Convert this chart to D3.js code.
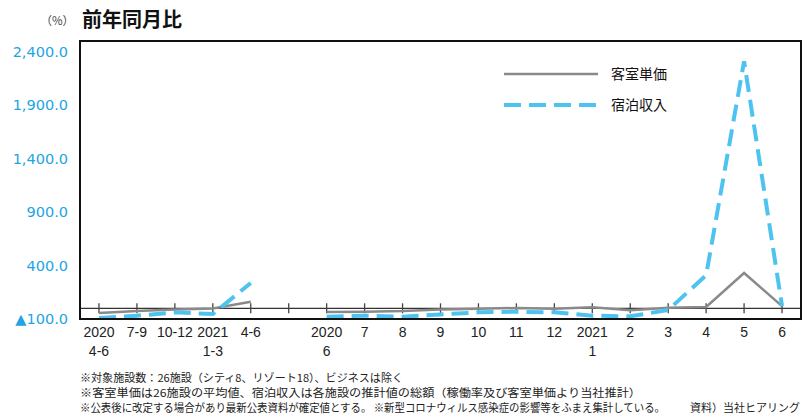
<!DOCTYPE html>
<html>
<head>
<meta charset="utf-8">
<script src="https://cdn.jsdelivr.net/npm/d3@7"></script>
<style>
    body { margin:0; background:#fff; }
    svg { display:block; }
</style>
</head>
<body>
<div id="chart"></div>
<script>

//**************************************************************************
//** data
//**************************************************************************
var labelTop = ["2020","7-9","10-12","2021","4-6","","2020","7","8","9","10","11","12","2021","2","3","4","5","6"];
var labelBottom = ["4-6","","","1-3","","","6","","","","","","","1","","","","",""];

//客室単価 (null = gap between quarterly and monthly data)
var roomRate = [-44,-25,-10,-1,62,null,-35,-32,-25,-10,-4,3,-4,9,-19,6,12,330,20];

//宿泊収入
var lodgingRevenue = [-91,-69,-38,-54,237,null,-79,-69,-79,-57,-38,-32,-38,-69,-75,-16,310,2310,22];

var yTicks = [-100,400,900,1400,1900,2400];
var yDomain = [-100,2500];

var seriesNames = ["客室単価","宿泊収入"];

var notes = [
    "※対象施設数：26施設（シティ8、リゾート18）、ビジネスは除く",
    "※客室単価は26施設の平均値、宿泊収入は各施設の推計値の総額（稼働率及び客室単価より当社推計）",
    "※公表後に改定する場合があり最新公表資料が確定値とする。 ※新型コロナウィルス感染症の影響等をふまえ集計している。"
];
var source = "資料）当社ヒアリング";


//**************************************************************************
//** styles
//**************************************************************************
var jpFont = "'Noto Sans CJK JP', 'Noto Sans', sans-serif";
var grayColor = "#8a8a8a";
var blueColor = "#4fc3f0";
var axisBlue = "#23a4e2";


//**************************************************************************
//** drawChart
//**************************************************************************
var drawChart = function(){

    var width = 808, height = 414;
    var plot = {left:80, top:41, right:801, bottom:319};

    var svg = d3.select("#chart").append("svg")
        .attr("width", width)
        .attr("height", height);

    var x = d3.scalePoint()
        .domain(d3.range(labelTop.length))
        .range([plot.left, plot.right])
        .padding(0.5);

    var y = d3.scaleLinear()
        .domain(yDomain)
        .range([plot.bottom, plot.top]);


  //Title
    svg.append("text")
        .attr("x", 74).attr("y", 25)
        .attr("text-anchor", "end")
        .style("font-family", jpFont)
        .style("font-size", "11.5px")
        .style("fill", "#444")
        .text("（%）");

    svg.append("text")
        .attr("x", 82).attr("y", 27)
        .style("font-family", jpFont)
        .style("font-size", "20px")
        .style("font-weight", "bold")
        .style("fill", "#111")
        .text("前年同月比");


  //Y-axis labels
    var yAxis = svg.append("g")
        .attr("transform", "translate(" + (plot.left - 12) + ",0)")
        .call(d3.axisLeft(y)
            .tickValues(yTicks)
            .tickSize(0)
            .tickPadding(0)
            .tickFormat(function(d){
                var s = d3.format(",.1f")(Math.abs(d));
                return d < 0 ? "▲" + s : s;
            })
        );
    yAxis.select(".domain").remove();
    yAxis.selectAll("text")
        .style("font-family", "'DejaVu Sans', sans-serif")
        .style("font-size", "14.5px")
        .style("fill", axisBlue);


  //Zero line with ticks
    var y0 = y(0);
    svg.append("line")
        .attr("x1", plot.left).attr("x2", plot.right)
        .attr("y1", y0).attr("y2", y0)
        .style("stroke", "#333")
        .style("stroke-width", 1.3);

    svg.append("g").selectAll("line")
        .data(d3.range(labelTop.length))
        .enter().append("line")
        .attr("x1", function(d){ return x(d); })
        .attr("x2", function(d){ return x(d); })
        .attr("y1", y0 - 5)
        .attr("y2", y0 + 5)
        .style("stroke", "#444")
        .style("stroke-width", 1.3);


  //Series
    var line = d3.line()
        .defined(function(d){ return d != null; })
        .x(function(d, i){ return x(i); })
        .y(function(d){ return y(d); });

    svg.append("path")
        .datum(roomRate)
        .attr("d", line)
        .style("fill", "none")
        .style("stroke", grayColor)
        .style("stroke-width", 2.5);

    svg.append("path")
        .datum(lodgingRevenue)
        .attr("d", line)
        .style("fill", "none")
        .style("stroke", blueColor)
        .style("stroke-width", 4)
        .style("stroke-dasharray", "17,8");


  //Frame
    svg.append("rect")
        .attr("x", plot.left).attr("y", plot.top)
        .attr("width", plot.right - plot.left)
        .attr("height", plot.bottom - plot.top)
        .style("fill", "none")
        .style("stroke", "#111")
        .style("stroke-width", 2);


  //X-axis labels
    var xl = svg.append("g");
    labelTop.forEach(function(t, i){
        var txt = xl.append("text")
            .attr("x", x(i))
            .attr("y", 337)
            .attr("text-anchor", "middle")
            .style("font-family", "'Liberation Sans Narrow', 'Liberation Sans', sans-serif")
            .style("font-size", "14px")
            .style("fill", "#222");
        txt.append("tspan").attr("x", x(i)).text(t);
        if (labelBottom[i]) txt.append("tspan").attr("x", x(i)).attr("dy", 19).text(labelBottom[i]);
    });


  //Legend
    var legend = svg.append("g");
    [grayColor, blueColor].forEach(function(c, i){
        var ly = 74 + i * 31;
        var l = legend.append("line")
            .attr("x1", 504).attr("x2", 598)
            .attr("y1", ly).attr("y2", ly)
            .style("stroke", c)
            .style("stroke-width", i ? 4 : 2.5);
        if (i) l.style("stroke-dasharray", "17,8");
        legend.append("text")
            .attr("x", 611).attr("y", ly + 5)
            .style("font-family", jpFont)
            .style("font-size", "14px")
            .style("fill", "#111")
            .text(seriesNames[i]);
    });


  //Notes
    var noteWidths = [323, 561, 585];
    notes.forEach(function(n, i){
        svg.append("text")
            .attr("x", 80)
            .attr("y", 382 + i * 15)
            .attr("textLength", noteWidths[i])
            .attr("lengthAdjust", "spacingAndGlyphs")
            .style("font-family", jpFont)
            .style("font-size", "11px")
            .style("fill", "#222")
            .text(n);
    });

    svg.append("text")
        .attr("x", 690)
        .attr("y", 412)
        .attr("textLength", 110)
        .attr("lengthAdjust", "spacingAndGlyphs")
        .style("font-family", jpFont)
        .style("font-size", "11px")
        .style("fill", "#222")
        .text(source);
};

drawChart();
</script>
</body>
</html>
